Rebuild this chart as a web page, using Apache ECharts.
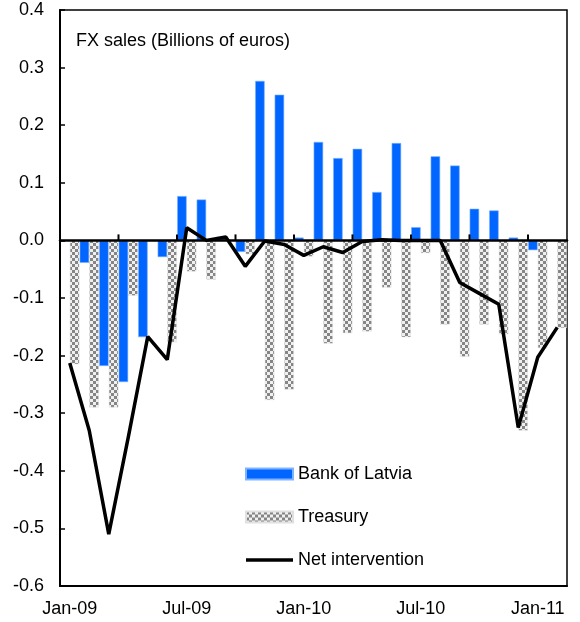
<!DOCTYPE html>
<html>
<head>
<meta charset="utf-8">
<script src="https://cdn.jsdelivr.net/npm/echarts@6/dist/echarts.min.js"></script>
<style>
  html, body { margin: 0; padding: 0; background: #fff; }
  #chart { width: 580px; height: 622px; }
</style>
</head>
<body>
<div id="chart"></div>
<script>
// months Jan-09 .. Feb-11
var months = ["Jan-09", "Feb-09", "Mar-09", "Apr-09", "May-09", "Jun-09", "Jul-09", "Aug-09", "Sep-09", "Oct-09", "Nov-09", "Dec-09",
  "Jan-10", "Feb-10", "Mar-10", "Apr-10", "May-10", "Jun-10", "Jul-10", "Aug-10", "Sep-10", "Oct-10", "Nov-10", "Dec-10",
  "Jan-11", "Feb-11"];
var bankOfLatvia = [0, -0.039, -0.218, -0.246, -0.168, -0.029, 0.077, 0.071, 0.006, -0.020, 0.277, 0.253,
  0.005, 0.171, 0.143, 0.159, 0.084, 0.169, 0.023, 0.146, 0.130, 0.055, 0.052, 0.005, -0.017, 0];
var treasury = [-0.215, -0.290, -0.290, -0.096, 0, -0.177, -0.054, -0.068, 0, -0.024, -0.277, -0.259,
  -0.028, -0.179, -0.161, -0.158, -0.082, -0.168, -0.022, -0.146, -0.202, -0.146, -0.163, -0.330, -0.187, -0.152];
var netIntervention = [-0.213, -0.330, -0.510, -0.342, -0.167, -0.207, 0.022, 0.000, 0.006, -0.045, -0.001, -0.007,
  -0.026, -0.011, -0.021, -0.002, 0.001, 0.000, 0.000, 0.000, -0.073, -0.092, -0.111, -0.325, -0.203, -0.151];
var yTicks = [-0.6, -0.5, -0.4, -0.3, -0.2, -0.1, 0.0, 0.1, 0.2, 0.3, 0.4];
// months where a quarter tick sits on the zero line (left edge of the month)
var quarterTicks = [3, 6, 9, 12, 15, 18, 21, 24];

var font = "'Liberation Sans', Arial, sans-serif";

// checkered fill for the treasury bars
function checker() {
  var c = document.createElement("canvas");
  c.width = 6;
  c.height = 6;
  var ctx = c.getContext("2d");
  ctx.fillStyle = "#f0f0f0";
  ctx.fillRect(0, 0, 6, 6);
  ctx.fillStyle = "#858585";
  ctx.fillRect(0, 0, 3, 3);
  ctx.fillRect(3, 3, 3, 3);
  return c;
}

var chart = echarts.init(document.getElementById("chart"));
chart.setOption({
  animation: false,
  textStyle: { fontFamily: font },
  title: {
    text: "FX sales (Billions of euros)",
    left: 76,
    top: 32,
    padding: 0,
    textStyle: { fontFamily: font, fontSize: 18, fontWeight: "normal", color: "#000" }
  },
  legend: {
    orient: "vertical",
    left: 240,
    top: 460,
    itemWidth: 47,
    itemHeight: 11,
    itemGap: 25,
    textStyle: { fontFamily: font, fontSize: 18, color: "#000" },
    data: [
      { name: "Bank of Latvia", icon: "rect" },
      { name: "Treasury", icon: "rect" },
      // thick flat bar so the line key has no marker
      { name: "Net intervention", icon: "path://M0,0L47,0L47,3.5L0,3.5Z" }
    ]
  },
  grid: {
    left: 60,
    right: 13,
    top: 10,
    bottom: 36,
    show: true,
    borderColor: "#000",
    borderWidth: 1.5,
    backgroundColor: "#fff"
  },
  xAxis: [
    {
      type: "category",
      data: months,
      position: "bottom",
      axisLine: { onZero: false, lineStyle: { color: "#000", width: 2 } },
      axisTick: { show: false },
      axisLabel: { interval: 5, margin: 14, fontSize: 18, color: "#000", fontFamily: font }
    },
    {
      // zero line
      type: "category",
      data: months,
      position: "bottom",
      z: 10,
      axisLine: { onZero: true, lineStyle: { color: "#000", width: 2.5 } },
      axisTick: { show: false },
      axisLabel: { show: false }
    }
  ],
  yAxis: {
    type: "value",
    min: yTicks[0],
    max: yTicks[yTicks.length - 1],
    interval: 0.1,
    splitLine: { show: false },
    axisLine: { show: true, lineStyle: { color: "#000", width: 2 } },
    axisTick: { show: true, inside: true, length: 5, lineStyle: { color: "#000", width: 1.5 } },
    axisLabel: {
      margin: 16,
      fontSize: 18,
      color: "#000",
      fontFamily: font,
      formatter: function (v) { return v.toFixed(1); }
    }
  },
  series: [
    {
      name: "Bank of Latvia",
      type: "bar",
      data: bankOfLatvia,
      barWidth: 9.5,
      barGap: "2%",
      itemStyle: { color: "#0066ff", borderColor: "#80b3ff", borderWidth: 0.6 }
    },
    {
      name: "Treasury",
      type: "bar",
      data: treasury,
      barWidth: 9.5,
      itemStyle: { color: { image: checker(), repeat: "repeat" }, borderColor: "#e0e0e0", borderWidth: 0.5 }
    },
    {
      name: "Net intervention",
      type: "line",
      data: netIntervention,
      symbol: "none",
      z: 12,
      lineStyle: { color: "#000", width: 3.5 },
      itemStyle: { color: "#000" }
    },
    {
      // small upward ticks on the zero line at quarter boundaries
      type: "custom",
      silent: true,
      z: 11,
      data: quarterTicks.map(function (i) { return [i, 0]; }),
      renderItem: function (params, api) {
        var p = api.coord([api.value(0), api.value(1)]);
        var x = p[0] - api.size([1, 0])[0] / 2;
        return {
          type: "line",
          shape: { x1: x, y1: p[1], x2: x, y2: p[1] - 6 },
          style: { stroke: "#000", lineWidth: 2 }
        };
      }
    }
  ]
});
</script>
</body>
</html>
